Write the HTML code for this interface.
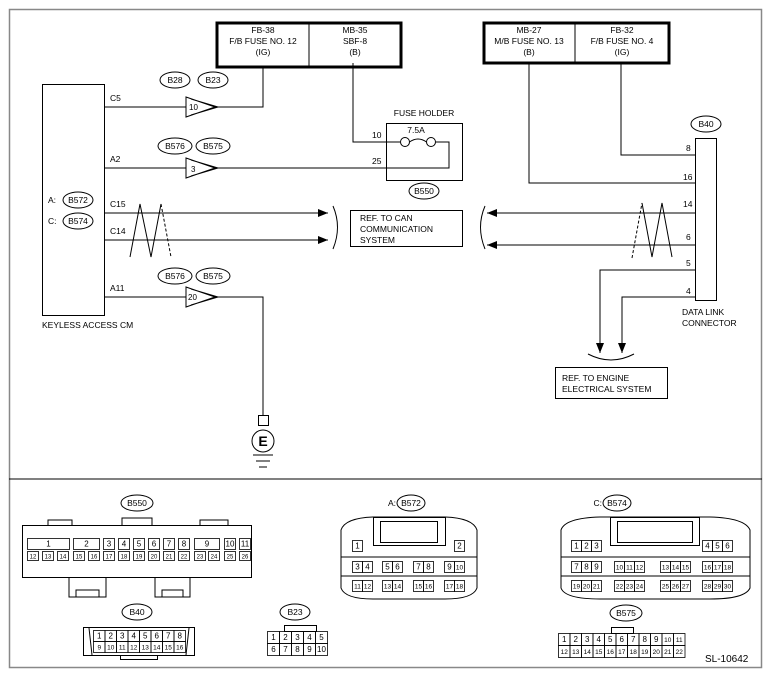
<!DOCTYPE html>
<html><head><meta charset="utf-8"><style>
html,body{margin:0;padding:0;background:#fff}
svg{display:block}
text{font-family:"Liberation Sans",sans-serif;fill:#000}
</style></head><body>
<svg width="772" height="678" viewBox="0 0 772 678" xmlns="http://www.w3.org/2000/svg">
<defs>
<marker id="ar" viewBox="0 0 10 10" refX="10" refY="5" markerWidth="10" markerHeight="10" markerUnits="userSpaceOnUse" orient="auto"><path d="M0,1 L10,5 L0,9 z" fill="#000"/></marker>
</defs>
<g fill="none" stroke="#000" stroke-width="1">
<rect x="9.5" y="9.5" width="752" height="658" stroke="#888" stroke-width="1.5"/>
<line x1="9" y1="479" x2="762" y2="479"/>
<rect x="217" y="23" width="184" height="44" stroke-width="3"/>
<line x1="309" y1="23" x2="309" y2="67"/>
<rect x="484" y="23" width="185" height="40" stroke-width="3"/>
<line x1="575" y1="23" x2="575" y2="63"/>
<rect x="42.5" y="84.5" width="62" height="231"/>
<path d="M105,107 H186 M215,107 H263 V68"/>
<path d="M186,97 L215,107 L186,117 z M191,99 L218,107 L191,115"/>
<path d="M105,168 H186 M215,168 H449 V142 H436"/>
<path d="M186,158 L215,168 L186,178 z M191,160 L218,168 L191,176"/>
<path d="M353,63 V142 H400"/>
<circle cx="405" cy="142" r="4.5" fill="#fff"/>
<circle cx="431" cy="142" r="4.5" fill="#fff"/>
<path d="M409.5,142 Q418,136 426.5,142"/>
<rect x="386.5" y="123.5" width="76" height="57"/>
<path d="M105,213 H328" marker-end="url(#ar)"/>
<path d="M105,240 H328" marker-end="url(#ar)"/>
<path d="M130,257 L140,204 L151,257 L161,204"/>
<path d="M161,204 L171,257" stroke-dasharray="3,2"/>
<path d="M333,206 Q342,227 333,249"/>
<rect x="350.5" y="210.5" width="112" height="36"/>
<path d="M485,206 Q476,227 485,249"/>
<path d="M695,213 H487" marker-end="url(#ar)"/>
<path d="M695,245 H487" marker-end="url(#ar)"/>
<path d="M642,203 L652,257 L662,203 L672,257"/>
<path d="M632,258 L642,203" stroke-dasharray="3,2"/>
<path d="M105,297 H186 M215,297 H263 V415"/>
<path d="M186,287 L215,297 L186,307 z M191,289 L218,297 L191,305"/>
<rect x="258.5" y="415.5" width="10" height="10"/>
<circle cx="263" cy="441" r="11"/>
<path d="M253,455 H273 M256,461 H270 M259,467 H267"/>
<rect x="695.5" y="138.5" width="21" height="162"/>
<path d="M695,155 H621 V63 M695,183 H529 V63"/>
<path d="M695,270 H600 V353" marker-end="url(#ar)"/>
<path d="M695,297 H622 V353" marker-end="url(#ar)"/>
<path d="M588,354 Q611,366 634,354"/>
<rect x="555.5" y="367.5" width="112" height="31"/>
<ellipse cx="175" cy="80" rx="15" ry="8"/>
<ellipse cx="213" cy="80" rx="15" ry="8"/>
<ellipse cx="175" cy="146" rx="17" ry="8"/>
<ellipse cx="213" cy="146" rx="17" ry="8"/>
<ellipse cx="175" cy="276" rx="17" ry="8"/>
<ellipse cx="213" cy="276" rx="17" ry="8"/>
<ellipse cx="78" cy="200" rx="15" ry="8"/>
<ellipse cx="78" cy="221" rx="15" ry="8"/>
<ellipse cx="424" cy="191" rx="15" ry="8"/>
<ellipse cx="706" cy="124" rx="15" ry="8"/>
<ellipse cx="137" cy="503" rx="16" ry="8"/>
<ellipse cx="137" cy="612" rx="15" ry="8"/>
<ellipse cx="295" cy="612" rx="15" ry="8"/>
<ellipse cx="411" cy="503" rx="14" ry="8"/>
<ellipse cx="617" cy="503" rx="14" ry="8"/>
<ellipse cx="626" cy="613" rx="16" ry="8"/>
</g>
<g font-size="8.5">
<text x="263" y="33" text-anchor="middle">FB-38</text>
<text x="263" y="44" text-anchor="middle">F/B FUSE NO. 12</text>
<text x="263" y="55" text-anchor="middle">(IG)</text>
<text x="355" y="33" text-anchor="middle">MB-35</text>
<text x="355" y="44" text-anchor="middle">SBF-8</text>
<text x="355" y="55" text-anchor="middle">(B)</text>
<text x="529" y="33" text-anchor="middle">MB-27</text>
<text x="529" y="44" text-anchor="middle">M/B FUSE NO. 13</text>
<text x="529" y="55" text-anchor="middle">(B)</text>
<text x="622" y="33" text-anchor="middle">FB-32</text>
<text x="622" y="44" text-anchor="middle">F/B FUSE NO. 4</text>
<text x="622" y="55" text-anchor="middle">(IG)</text>
<text x="175" y="83" text-anchor="middle">B28</text>
<text x="213" y="83" text-anchor="middle">B23</text>
<text x="175" y="149" text-anchor="middle">B576</text>
<text x="213" y="149" text-anchor="middle">B575</text>
<text x="175" y="279" text-anchor="middle">B576</text>
<text x="213" y="279" text-anchor="middle">B575</text>
<text x="110" y="101">C5</text>
<text x="110" y="162">A2</text>
<text x="110" y="207">C15</text>
<text x="110" y="234">C14</text>
<text x="110" y="291">A11</text>
<text x="189" y="110" font-size="8">10</text>
<text x="191" y="172" font-size="8">3</text>
<text x="188" y="300" font-size="8">20</text>
<text x="48" y="203">A:</text><text x="78" y="203" text-anchor="middle">B572</text>
<text x="48" y="224">C:</text><text x="78" y="224" text-anchor="middle">B574</text>
<text x="42" y="328">KEYLESS ACCESS CM</text>
<text x="424" y="116" text-anchor="middle">FUSE HOLDER</text>
<text x="416" y="133" text-anchor="middle">7.5A</text>
<text x="372" y="138">10</text>
<text x="372" y="164">25</text>
<text x="424" y="194" text-anchor="middle">B550</text>
<text x="360" y="221">REF. TO CAN</text>
<text x="360" y="232">COMMUNICATION</text>
<text x="360" y="243">SYSTEM</text>
<text x="706" y="127" text-anchor="middle">B40</text>
<text x="686" y="151">8</text>
<text x="683" y="180">16</text>
<text x="683" y="207">14</text>
<text x="686" y="240">6</text>
<text x="686" y="266">5</text>
<text x="686" y="294">4</text>
<text x="682" y="315">DATA LINK</text>
<text x="682" y="326">CONNECTOR</text>
<text x="562" y="381">REF. TO ENGINE</text>
<text x="562" y="392">ELECTRICAL SYSTEM</text>
<text x="263" y="446" text-anchor="middle" font-size="14" font-weight="bold">E</text>
<text x="137" y="506" text-anchor="middle">B550</text>
<text x="137" y="615" text-anchor="middle">B40</text>
<text x="295" y="615" text-anchor="middle">B23</text>
<text x="396" y="506" text-anchor="end">A:</text><text x="411" y="506" text-anchor="middle">B572</text>
<text x="602" y="506" text-anchor="end">C:</text><text x="617" y="506" text-anchor="middle">B574</text>
<text x="626" y="616" text-anchor="middle">B575</text>
<text x="705" y="662" font-size="10">SL-10642</text>
</g>
<g fill="none" stroke="#000" stroke-width="1">
<rect x="22.5" y="525.5" width="229" height="52"/>
<path d="M48,525 V520 H72 V525 M122,525 V518 H152 V525 M200,525 V520 H228 V525"/>
<path d="M69,577 V597 H106 V577 M155,577 V597 H190 V577"/>
<path d="M76,597 V590 H99 V597 M162,597 V590 H183 V597"/>
<rect x="83.5" y="627.5" width="111" height="28"/>
<path d="M89,628 L92,655 M189,628 L186,655"/>
<rect x="120.5" y="655.5" width="37" height="4"/>
<rect x="284.5" y="625.5" width="32" height="6"/>
<rect x="611.5" y="627.5" width="22" height="6"/>
<path d="M341,530 Q345,518 373,517 H445 Q473,518 477,530 V588 Q473,599 445,599 H373 Q345,599 341,588 Z"/>
<rect x="373.5" y="517.5" width="72" height="28"/>
<rect x="380.5" y="521.5" width="57" height="21"/>
<path d="M341,557 H477 M341,576 H477"/>
<path d="M561,530 Q565,518 600,517 H710 Q745,518 750,530 V588 Q745,599 710,599 H600 Q565,599 561,588 Z"/>
<rect x="610.5" y="517.5" width="89" height="28"/>
<rect x="617.5" y="521.5" width="75" height="21"/>
<path d="M561,557 H750 M561,576 H750"/>
</g>
<g id="pins" font-size="7" text-anchor="middle"></g>
<script>
(function(){
var NS="http://www.w3.org/2000/svg",g=document.getElementById("pins");
function cell(x,y,w,h,t,fs){var r=document.createElementNS(NS,"rect");r.setAttribute("x",x+0.5);r.setAttribute("y",y+0.5);r.setAttribute("width",w);r.setAttribute("height",h);r.setAttribute("fill","none");r.setAttribute("stroke","#000");r.setAttribute("stroke-width","0.8");g.appendChild(r);
var tx=document.createElementNS(NS,"text");tx.setAttribute("x",x+w/2+0.5);tx.setAttribute("y",y+h/2+3);if(fs)tx.setAttribute("font-size",fs);tx.textContent=t;g.appendChild(tx);}
var bot=[[27,12],[42,13],[57,14],[73,15],[88,16],[103,17],[118,18],[133,19],[148,20],[163,21],[178,22],[194,23],[208,24],[224,25],[239,26]];
bot.forEach(function(p){cell(p[0],551,11,9,""+p[1],6);});
var top=[[27,42,1],[73,26,2],[103,11,3],[118,11,4],[133,11,5],[148,11,6],[163,11,7],[178,11,8],[194,25,9],[224,11,10],[239,11,11]];
top.forEach(function(p){cell(p[0],538,p[1],11,""+p[2],8);});
for(var i=0;i<8;i++){cell(93+i*11.5,630,11.5,11,""+(i+1),8);cell(93+i*11.5,641,11.5,11,""+(i+9),6.5);}
for(var i=0;i<5;i++){cell(267+i*12,631,12,12,""+(i+1),8);cell(267+i*12,643,12,12,""+(i+6),8);}
for(var i=0;i<11;i++){cell(558+i*11.5,633,11.5,12,""+(i+1),i<9?8:6.5);cell(558+i*11.5,645,11.5,12,""+(i+12),6.5);}
cell(352,540,10,11,"1",8);cell(454,540,10,11,"2",8);
var gx=[352,382,413,444];
for(var k=0;k<4;k++){cell(gx[k],561,10,11,""+(3+2*k),8);cell(gx[k]+10,561,10,11,""+(4+2*k),k==3?6.5:8);
cell(gx[k],580,10,11,""+(11+2*k),6.5);cell(gx[k]+10,580,10,11,""+(12+2*k),6.5);}
var cx=[571,614,660,702];
for(var j=0;j<3;j++){cell(571+j*10,540,10,11,""+(1+j),8);cell(702+j*10,540,10,11,""+(4+j),8);}
for(var k=0;k<4;k++){for(var j=0;j<3;j++){var n=7+k*3+j;cell(cx[k]+j*10,561,10,11,""+n,n<10?8:6.5);cell(cx[k]+j*10,580,10,11,""+(19+k*3+j),6.5);}}
})();
</script>
</svg>
</body></html>
